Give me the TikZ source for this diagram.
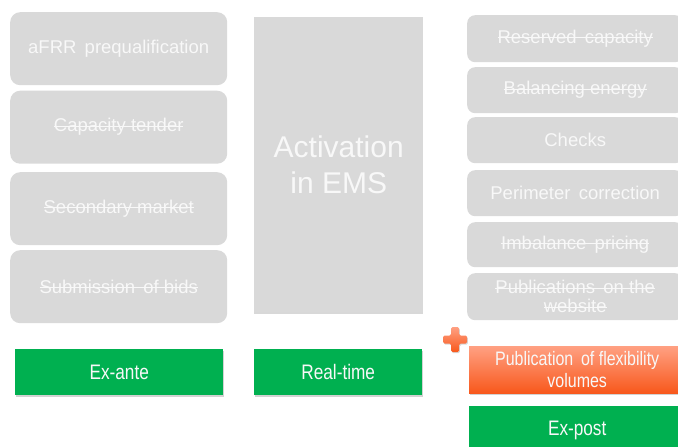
\documentclass[tikz,border=0pt]{standalone}
\usepackage{fontspec}
\setmainfont{Liberation Sans}
\newfontfamily\cond[FakeStretch=0.82]{Liberation Sans}
\usetikzlibrary{shadows}
\newsavebox\strkbox
\newcommand\strk[1]{\sbox\strkbox{#1}\rlap{\usebox\strkbox}\raisebox{0.27em}{\rule{\wd\strkbox}{0.06em}}}
\definecolor{boxgray}{RGB}{217,217,217}
\definecolor{txtwhite}{RGB}{248,248,248}
\definecolor{green1}{RGB}{0,176,80}
\definecolor{orangetop}{RGB}{255,160,130}
\definecolor{orangebot}{RGB}{248,88,28}
\tikzset{
  grayfont/.style={font=\fontsize{18.5}{20}\selectfont},
  lbox/.style={fill=boxgray, draw=none, rounded corners=10pt, text=txtwhite,
    anchor=north west, inner sep=0pt, align=center, grayfont,
    minimum width=217pt, minimum height=73pt},
  rbox/.style={fill=boxgray, draw=none, rounded corners=8pt, text=txtwhite,
    anchor=north west, inner sep=0pt, align=center, grayfont,
    minimum width=216pt},
  gbox/.style={fill=green1, draw=none, text=txtwhite, anchor=north west,
    inner sep=0pt, align=center, font=\cond\fontsize{21}{22}\selectfont,
    drop shadow={shadow xshift=1pt, shadow yshift=-2pt, opacity=0.35}},
  obox/.style={top color=orangetop, bottom color=orangebot, draw=none,
    text=txtwhite, anchor=north west, inner sep=0pt, align=center,
    font=\cond\fontsize{19.5}{22}\selectfont,
    drop shadow={shadow xshift=1pt, shadow yshift=-2pt, opacity=0.35}},
}
\begin{document}
\begin{tikzpicture}[x=1pt, y=-1pt]
\clip (0,0) rectangle (678,447);
\fill[white] (0,0) rectangle (678,447);

% Ex-ante column
\node[lbox] (a1) at (10,12) {aFRR\, prequalification};
\node[lbox] (a2) at (10,90.5) {\strk{Capacity tender}};
\node[lbox] (a3) at (10,172) {\strk{Secondary market}};
\node[lbox] (a4) at (10,250) {\strk{Submission\, of bids}};

% Real-time column
\node[fill=boxgray, draw=none, anchor=north west, inner sep=0pt,
  minimum width=169pt, minimum height=295pt, text=txtwhite, align=center,
  font=\fontsize{30}{36}\selectfont,
  drop shadow={shadow xshift=0pt, shadow yshift=-2pt, opacity=0.3}]
  (rt) at (254,17) {Activation\\in EMS};

% Ex-post column
\node[rbox, minimum height=47pt] (p1) at (467,15) {\strk{Reserved\, capacity}};
\node[rbox, minimum height=46pt] (p2) at (467,67) {\strk{Balancing energy}};
\node[rbox, minimum height=46pt] (p3) at (467,117) {Checks};
\node[rbox, minimum height=46pt] (p4) at (467,170) {Perimeter\, correction};
\node[rbox, minimum height=45pt] (p5) at (467,222) {\strk{Imbalance\, pricing}};
\node[rbox, minimum height=47pt, font=\fontsize{18.5}{19}\selectfont]
  (p6) at (467,273) {\strk{Publications\, on the}\\\strk{website}};

% Bottom labels
\node[gbox, minimum width=208pt, minimum height=46pt] (ea) at (15,349) {Ex-ante};
\node[gbox, minimum width=168pt, minimum height=46pt] (rl) at (254,349) {Real-time};
\node[obox, minimum width=216pt, minimum height=47pt] (pf) at (469,346)
  {Publication\, of flexibility\\volumes};
\node[gbox, minimum width=216pt, minimum height=48pt] (ep) at (469,406) {Ex-post};

% Plus sign
\shade[top color=orangetop, bottom color=orangebot, rounded corners=1.5pt,
  drop shadow={shadow xshift=0.8pt, shadow yshift=-1.2pt, opacity=0.3}]
  (451,327) -- (459,327) -- (459,335.5) -- (467,335.5) -- (467,343.5)
  -- (459,343.5) -- (459,352) -- (451,352) -- (451,343.5) -- (443,343.5)
  -- (443,335.5) -- (451,335.5) -- cycle;
\end{tikzpicture}
\end{document}
